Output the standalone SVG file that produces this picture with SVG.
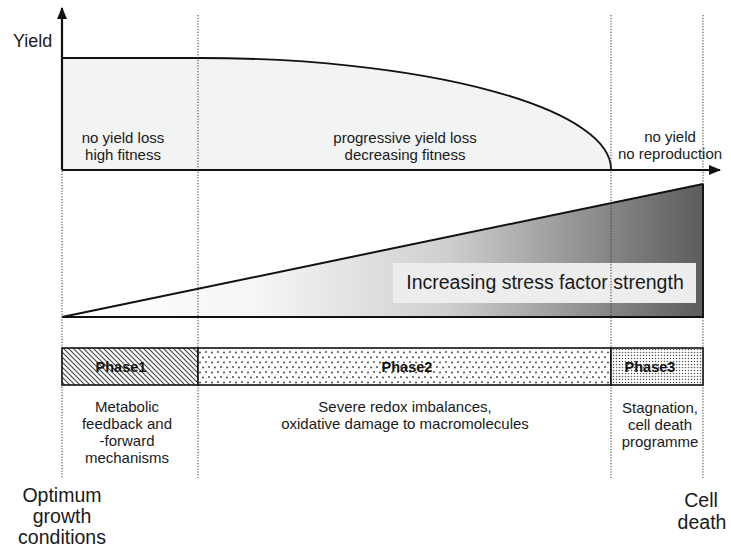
<svg xmlns="http://www.w3.org/2000/svg" width="731" height="548" viewBox="0 0 731 548">
  <style>
    text { font-family: "Liberation Sans", Arial, sans-serif; fill: #1a1a1a; }
    .axis { stroke: #111; stroke-width: 2.2; fill: none; }
    .dot { stroke: #333; stroke-width: 1; stroke-dasharray: 1.2 1.6; fill: none; }
    .lbl { font-size: 15px; text-anchor: middle; }
    .big { font-size: 19.5px; text-anchor: middle; }
    .ph { font-size: 14.5px; font-weight: bold; text-anchor: middle; fill: #111; }
    .edge { stroke: #111; stroke-width: 2; fill: none; }
  </style>
  <defs>
    <marker id="arrow" markerWidth="12" markerHeight="10" refX="11" refY="5" orient="auto" markerUnits="userSpaceOnUse">
      <path d="M0,0 L12,5 L0,10 Z" fill="#111"/>
    </marker>
    <linearGradient id="stress" x1="62" y1="0" x2="703" y2="0" gradientUnits="userSpaceOnUse">
      <stop offset="0" stop-color="#ffffff"/>
      <stop offset="0.3" stop-color="#f6f6f6"/>
      <stop offset="0.6" stop-color="#cfcfcf"/>
      <stop offset="1" stop-color="#5c5c5c"/>
    </linearGradient>
    <pattern id="hatch" width="5" height="5" patternUnits="userSpaceOnUse">
      <rect width="5" height="5" fill="#ffffff"/>
      <path d="M-1,-1 L6,6 M-1,4 L1,6 M4,-1 L6,1" stroke="#444" stroke-width="1.1"/>
    </pattern>
    <pattern id="sparse" width="12" height="10" patternUnits="userSpaceOnUse">
      <rect width="12" height="10" fill="#ffffff"/>
      <circle cx="2" cy="2" r="0.95" fill="#444"/>
      <circle cx="8" cy="2.5" r="0.95" fill="#444"/>
      <circle cx="5" cy="7" r="0.95" fill="#444"/>
      <circle cx="11" cy="7.5" r="0.95" fill="#444"/>
    </pattern>
    <pattern id="dense" width="3" height="3" patternUnits="userSpaceOnUse">
      <rect width="3" height="3" fill="#ffffff"/>
      <circle cx="1.5" cy="1.5" r="0.75" fill="#555"/>
    </pattern>
  </defs>

  <!-- yield area -->
  <g id="yield-area">
    <path d="M62,58 L200,58 A411,111 0 0 1 611,169 L62,169 Z" fill="#f2f3f3"/>
    <path d="M62,58 L200,58 A411,111 0 0 1 611,169" fill="none" stroke="#111" stroke-width="1.8"/>
  </g>

  <!-- stress wedge -->
  <g id="stress-wedge">
    <path d="M62,317 L703,184 L703,317 Z" fill="url(#stress)"/>
    <path d="M62,317 L703,184" class="edge" stroke-width="1.6"/>
    <path d="M703,184 L703,317 L62,317" class="edge"/>
    <rect x="393" y="263" width="303" height="40" fill="#ededed"/>
    <text x="545" y="289" style="font-size:19.5px;text-anchor:middle">Increasing stress factor strength</text>
  </g>

  <!-- phase boundaries -->
  <g id="boundaries">
    <line x1="62" y1="171" x2="62" y2="478" class="dot"/>
    <line x1="198" y1="15" x2="198" y2="478" class="dot"/>
    <line x1="611" y1="15" x2="611" y2="478" class="dot"/>
    <line x1="703" y1="15" x2="703" y2="478" class="dot"/>
  </g>

  <!-- axes -->
  <g id="connectors">
    <line x1="62" y1="170" x2="62" y2="8" class="axis" marker-end="url(#arrow)"/>
    <line x1="62" y1="170" x2="720" y2="170" class="axis" marker-end="url(#arrow)"/>
  </g>

  <text x="13" y="47" style="font-size:18px">Yield</text>

  <g id="region-labels">
    <text class="lbl" x="123" y="143">no yield loss</text>
    <text class="lbl" x="123" y="160">high fitness</text>
    <text class="lbl" x="405" y="143">progressive yield loss</text>
    <text class="lbl" x="405" y="160">decreasing fitness</text>
    <text class="lbl" x="670" y="142">no yield</text>
    <text class="lbl" x="670" y="159">no reproduction</text>
  </g>

  <!-- phase bar -->
  <g id="phase1">
    <rect x="62" y="348" width="136" height="37" fill="url(#hatch)" stroke="#111" stroke-width="1.6"/>
    <text class="ph" x="121" y="372">Phase1</text>
    <text class="lbl" x="127" y="412">Metabolic</text>
    <text class="lbl" x="127" y="429">feedback and</text>
    <text class="lbl" x="127" y="446">-forward</text>
    <text class="lbl" x="127" y="463">mechanisms</text>
  </g>
  <g id="phase2">
    <rect x="198" y="348" width="413" height="37" fill="url(#sparse)" stroke="#111" stroke-width="1.6"/>
    <text class="ph" x="407" y="372">Phase2</text>
    <text class="lbl" x="405" y="412">Severe redox imbalances,</text>
    <text class="lbl" x="405" y="429">oxidative damage to macromolecules</text>
  </g>
  <g id="phase3">
    <rect x="611" y="348" width="92" height="37" fill="url(#dense)" stroke="#111" stroke-width="1.6"/>
    <text class="ph" x="650" y="372">Phase3</text>
    <text class="lbl" x="660" y="413">Stagnation,</text>
    <text class="lbl" x="660" y="430">cell death</text>
    <text class="lbl" x="660" y="447">programme</text>
  </g>

  <g id="endpoints">
    <text class="big" x="62" y="502">Optimum</text>
    <text class="big" x="62" y="523">growth</text>
    <text class="big" x="62" y="544">conditions</text>
    <text class="big" x="701" y="507">Cell</text>
    <text class="big" x="702" y="529">death</text>
  </g>
</svg>
